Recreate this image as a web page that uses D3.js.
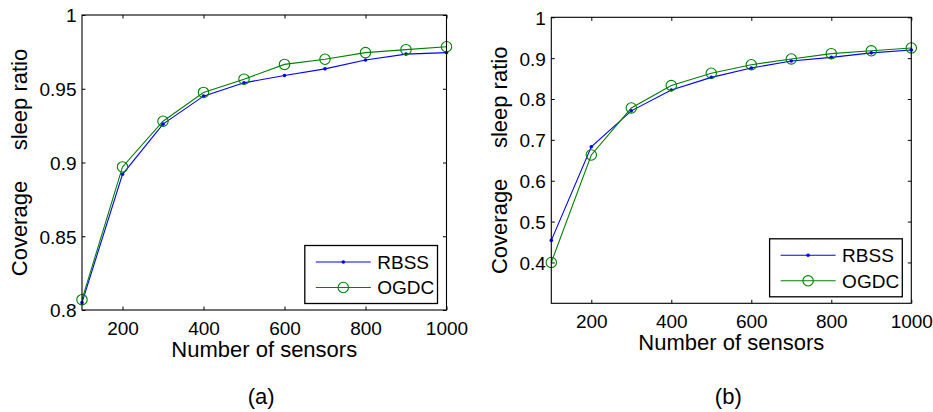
<!DOCTYPE html>
<html>
<head>
<meta charset="utf-8">
<script src="https://cdn.jsdelivr.net/npm/d3@7"></script>
<style>
  html, body { margin: 0; padding: 0; background: #fff; }
  svg { display: block; font-family: "Liberation Sans", Arial, Helvetica, sans-serif; }
  text { fill: #000; }
</style>
</head>
<body>
<svg id="chart" width="933" height="412"></svg>
<script>
// ---- data ----
const sensors = [100, 200, 300, 400, 500, 600, 700, 800, 900, 1000];
const rbssA = [0.805, 0.892, 0.926, 0.945, 0.954, 0.959, 0.9635, 0.9695, 0.9735, 0.9745];
const ogdcA = [0.807, 0.897, 0.928, 0.9475, 0.9565, 0.9665, 0.970, 0.9745, 0.9765, 0.9785];
const rbssB = [0.454, 0.683, 0.771, 0.822, 0.853, 0.876, 0.893, 0.902, 0.913, 0.920];
const ogdcB = [0.400, 0.663, 0.778, 0.833, 0.863, 0.884, 0.898, 0.911, 0.918, 0.925];
const xTicks = [200, 400, 600, 800, 1000];
const yTicksA = [0.8, 0.85, 0.9, 0.95, 1];
const yTicksB = [0.4, 0.5, 0.6, 0.7, 0.8, 0.9, 1];
const seriesNames = ["RBSS", "OGDC"];
const xLabel = "Number of sensors";
const yLabel = "Coverage     sleep ratio";
const panelLabels = ["(a)", "(b)"];

const BLUE = "#0000ff", GREEN = "#008000";
const svg = d3.select("#chart");

function panel(cfg) {
  const { left, right, top, bottom, yDomain, yTicks, rbss, ogdc, label, yLabelX } = cfg;
  const x = d3.scaleLinear().domain([100, 1000]).range([left, right]);
  const y = d3.scaleLinear().domain(yDomain).range([bottom, top]);
  const g = svg.append("g");
  const tickLen = 3.5;

  const fmt = d => String(d);
  const axB = d3.axisBottom(x).tickValues(xTicks).tickSize(-tickLen).tickFormat(fmt);
  const axT = d3.axisTop(x).tickValues(xTicks).tickSize(-tickLen).tickFormat("");
  const axL = d3.axisLeft(y).tickValues(yTicks).tickSize(-tickLen).tickFormat(fmt);
  const axR = d3.axisRight(y).tickValues(yTicks).tickSize(-tickLen).tickFormat("");

  const gb = g.append("g").attr("transform", `translate(0,${bottom})`).call(axB);
  const gt = g.append("g").attr("transform", `translate(0,${top})`).call(axT);
  const gl = g.append("g").attr("transform", `translate(${left},0)`).call(axL);
  const gr = g.append("g").attr("transform", `translate(${right},0)`).call(axR);
  [gb, gt, gl, gr].forEach(a => {
    a.select(".domain").remove();
    a.selectAll("line").attr("stroke", "#000").attr("stroke-width", 1);
    a.selectAll("text").attr("font-size", 19).attr("font-family", "Liberation Sans, Arial, sans-serif").attr("fill", "#000");
  });
  gb.selectAll("text").attr("dy", null).attr("y", 25);
  gl.selectAll("text").attr("dy", "0.36em").attr("x", -5.5);

  // data lines
  const line = d3.line().x((d, i) => x(sensors[i])).y(d => y(d));
  g.append("path").datum(rbss).attr("d", line).attr("fill", "none").attr("stroke", BLUE).attr("stroke-width", 1.1);
  g.append("path").datum(ogdc).attr("d", line).attr("fill", "none").attr("stroke", GREEN).attr("stroke-width", 1.1);
  g.selectAll(".dotB").data(rbss).enter().append("circle")
    .attr("cx", (d, i) => x(sensors[i])).attr("cy", d => y(d)).attr("r", 1.8).attr("fill", BLUE);
  g.selectAll(".dotG").data(ogdc).enter().append("circle")
    .attr("cx", (d, i) => x(sensors[i])).attr("cy", d => y(d)).attr("r", 5.2)
    .attr("fill", "none").attr("stroke", GREEN).attr("stroke-width", 1.1);

  // box
  g.append("rect").attr("x", left).attr("y", top).attr("width", right - left).attr("height", bottom - top)
    .attr("fill", "none").attr("stroke", "#000").attr("stroke-width", 1.1);

  // legend
  const lw = 132.7, lh = 58;
  const lx = right - 9 - lw, ly = bottom - 6.5 - lh;
  const lg = g.append("g").attr("transform", `translate(${lx},${ly})`);
  lg.append("rect").attr("width", lw).attr("height", lh).attr("fill", "#fff").attr("stroke", "#000").attr("stroke-width", 1.3);
  const rows = [{ c: BLUE, mk: "dot" }, { c: GREEN, mk: "circle" }];
  rows.forEach((r, i) => {
    const yy = 16.5 + i * 25.5;
    lg.append("line").attr("x1", 11).attr("x2", 66).attr("y1", yy).attr("y2", yy).attr("stroke", r.c).attr("stroke-width", 1.1);
    if (r.mk === "dot") lg.append("circle").attr("cx", 38.5).attr("cy", yy).attr("r", 1.8).attr("fill", r.c);
    else lg.append("circle").attr("cx", 38.5).attr("cy", yy).attr("r", 5.2).attr("fill", "none").attr("stroke", r.c).attr("stroke-width", 1.1);
    lg.append("text").attr("x", 72.5).attr("y", yy).attr("dy", "0.36em").attr("font-size", 19).text(seriesNames[i]);
  });

  // axis labels
  g.append("text").attr("x", (left + right) / 2).attr("y", bottom + 47).attr("text-anchor", "middle")
    .attr("font-size", 22).text(xLabel);
  g.append("text").attr("transform", `translate(${yLabelX},${(top + bottom) / 2}) rotate(-90)`)
    .attr("text-anchor", "middle").attr("font-size", 22).style("white-space", "pre").text(yLabel);

  // panel label
  g.append("text").attr("x", (left + right) / 2 - 3).attr("y", 404).attr("text-anchor", "middle")
    .attr("font-size", 22).text(label);
}

panel({ left: 82, right: 446.5, top: 15, bottom: 310, yDomain: [0.8, 1], yTicks: yTicksA,
        rbss: rbssA, ogdc: ogdcA, label: panelLabels[0], yLabelX: 27 });
panel({ left: 551.3, right: 911.3, top: 17.3, bottom: 303.3, yDomain: [0.3, 1], yTicks: yTicksB,
        rbss: rbssB, ogdc: ogdcB, label: panelLabels[1], yLabelX: 506.5 });
</script>
</body>
</html>
